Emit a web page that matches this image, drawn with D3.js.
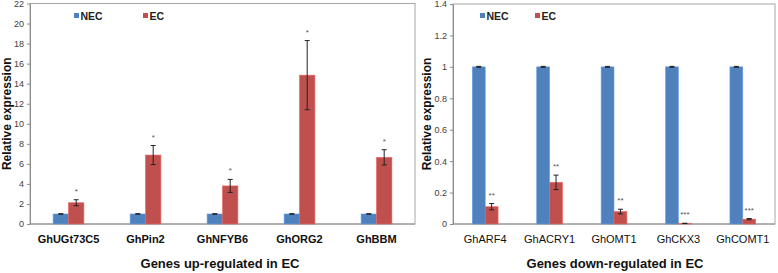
<!DOCTYPE html>
<html>
<head>
<meta charset="utf-8">
<style>
  body { margin: 0; background: #fff; font-family: Arial, "Liberation Sans", Helvetica, sans-serif; }
  .frame { fill: none; stroke: #a6a6a6; stroke-width: 1; }
  .axis path, .axis line { stroke: #8c8c8c; }
  .axis text { fill: #404040; font-size: 9px; }
  .err { stroke: #222; stroke-width: 1; }
  .star { fill: #555; font-size: 8px; text-anchor: middle; }
  .ytitle, .xtitle { font-weight: bold; fill: #111; }
</style>
</head>
<body>
<script src="https://d3js.org/d3.v7.min.js"></script>
<script>
// left panel: up-regulated genes
const upGenes = ["GhUGt73C5", "GhPin2", "GhNFYB6", "GhORG2", "GhBBM"];
const upNEC = [1, 1, 1, 1, 1];
const upNECerr = [0.03, 0.03, 0.03, 0.03, 0.03];
const upEC = [2.12, 6.88, 3.8, 14.85, 6.65];
const upECerr = [0.3, 0.95, 0.65, 3.45, 0.76];
const upStars = ["*", "*", "*", "*", "*"];
const upTicks = [0, 2, 4, 6, 8, 10, 12, 14, 16, 18, 20, 22];

// right panel: down-regulated genes
const downGenes = ["GhARF4", "GhACRY1", "GhOMT1", "GhCKX3", "GhCOMT1"];
const downNEC = [1, 1, 1, 1, 1];
const downNECerr = [0.003, 0.003, 0.003, 0.003, 0.003];
const downEC = [0.11, 0.265, 0.079, 0.004, 0.031];
const downECerr = [0.02, 0.046, 0.015, 0.001, 0.004];
const downStars = ["**", "**", "**", "***", "***"];
const downTicks = [0, 0.2, 0.4, 0.6, 0.8, 1, 1.2, 1.4];

const seriesNames = ["NEC", "EC"];
const colors = ["#4f81bd", "#c0504d"];

const W = 778, H = 273;
const svg = d3.select("body").append("svg").attr("width", W).attr("height", H);

function panel(o) {
  const g = svg.append("g");
  const x = d3.scaleBand().domain(o.genes).range([o.x0, o.x1]);
  const y = d3.scaleLinear().domain([0, o.max]).range([o.yb, o.yt]);
  const bw = x.bandwidth() * 0.2;

  g.append("rect").attr("class", "frame")
    .attr("x", o.x0).attr("y", o.yt).attr("width", o.x1 - o.x0).attr("height", o.yb - o.yt);

  g.append("g").attr("class", "axis")
    .attr("transform", `translate(${o.x0},0)`)
    .call(d3.axisLeft(y).tickValues(o.ticks).tickSize(3).tickSizeOuter(0).tickFormat(d3.format("~g")));

  g.append("line").attr("x1", o.x0).attr("x2", o.x1).attr("y1", o.yb).attr("y2", o.yb)
    .attr("stroke", "#8c8c8c");

  const series = [
    { vals: o.nec, errs: o.necErr, off: -bw, c: colors[0] },
    { vals: o.ec, errs: o.ecErr, off: 0, c: colors[1] }
  ];
  series.forEach(s => {
    o.genes.forEach((gn, i) => {
      const cx = x(gn) + x.bandwidth() / 2 + s.off;
      g.append("rect").attr("x", cx).attr("width", bw)
        .attr("y", y(s.vals[i])).attr("height", y(0) - y(s.vals[i]))
        .attr("fill", s.c).attr("stroke", d3.color(s.c).brighter(0.6)).attr("stroke-width", 0.6);
      const mx = cx + bw / 2;
      const hi = y(s.vals[i] + s.errs[i]), lo = y(Math.max(0, s.vals[i] - s.errs[i]));
      g.append("line").attr("class", "err").attr("x1", mx).attr("x2", mx).attr("y1", hi).attr("y2", lo);
      g.append("line").attr("class", "err").attr("x1", mx - 2.5).attr("x2", mx + 2.5).attr("y1", hi).attr("y2", hi);
      g.append("line").attr("class", "err").attr("x1", mx - 2.5).attr("x2", mx + 2.5).attr("y1", lo).attr("y2", lo);
    });
  });

  // significance marks
  o.genes.forEach((gn, i) => {
    const mx = x(gn) + x.bandwidth() / 2 + bw / 2;
    g.append("text").attr("class", "star").attr("x", mx)
      .attr("y", y(o.ec[i] + o.ecErr[i]) - 6 + o.starDy).text(o.stars[i]);
  });

  // category labels
  g.selectAll(".cat").data(o.genes).join("text")
    .attr("x", d => x(d) + x.bandwidth() / 2).attr("y", 243)
    .attr("text-anchor", "middle").attr("font-size", "11px")
    .attr("font-weight", o.boldCats ? "bold" : "normal").attr("fill", "#111")
    .text(d => d);

  // titles
  g.append("text").attr("class", "xtitle").attr("x", o.titleX).attr("y", 268)
    .attr("text-anchor", "middle").attr("font-size", "13px").text(o.title);
  g.append("text").attr("class", "ytitle")
    .attr("transform", `translate(${o.yTitleX},${(o.yt + o.yb) / 2}) rotate(-90)`)
    .attr("text-anchor", "middle").attr("font-size", "12px").text("Relative expression");

  // legend
  seriesNames.forEach((n, i) => {
    const lx = o.legX[i];
    g.append("rect").attr("x", lx).attr("y", 13).attr("width", 5).attr("height", 5).attr("fill", colors[i]);
    g.append("text").attr("x", lx + 6.5).attr("y", 19.5).attr("font-size", "10.5px")
      .attr("font-weight", "bold").attr("fill", "#222").text(n);
  });
}

panel({
  genes: upGenes, nec: upNEC, necErr: upNECerr, ec: upEC, ecErr: upECerr, stars: upStars,
  ticks: upTicks, max: 22, x0: 30, x1: 415, yt: 3.5, yb: 224, boldCats: true,
  title: "Genes up-regulated in EC", titleX: 220, yTitleX: 11, legX: [74, 143], starDy: 0
});
panel({
  genes: downGenes, nec: downNEC, necErr: downNECerr, ec: downEC, ecErr: downECerr, stars: downStars,
  ticks: downTicks, max: 1.4, x0: 453, x1: 775, yt: 4, yb: 224, boldCats: false,
  title: "Genes down-regulated in EC", titleX: 615, yTitleX: 431, legX: [480, 535], starDy: 0
});
</script>
</body>
</html>
